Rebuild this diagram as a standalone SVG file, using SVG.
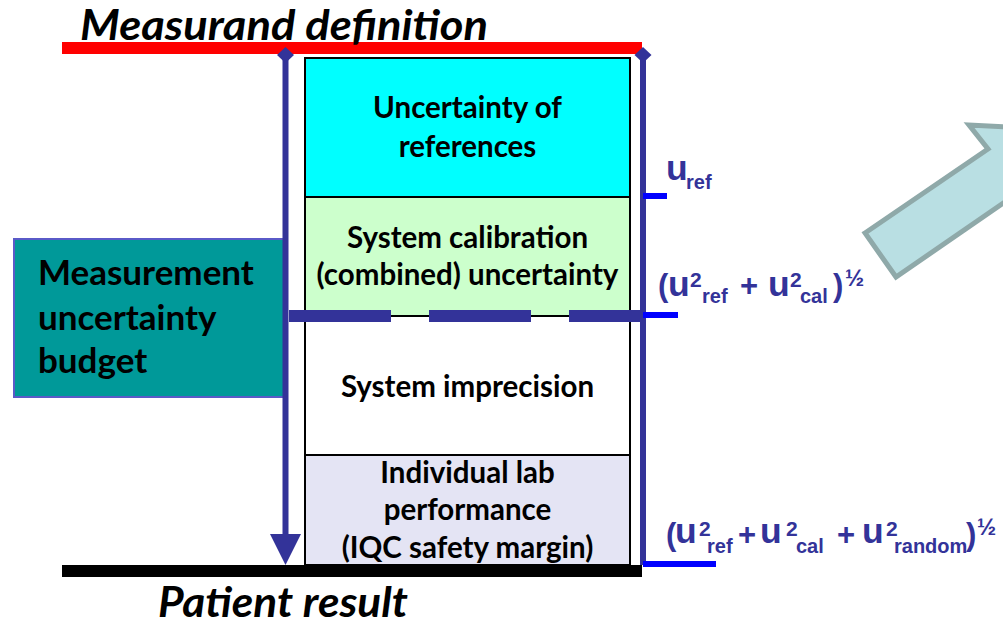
<svg xmlns="http://www.w3.org/2000/svg" width="1003" height="625" viewBox="0 0 1003 625">
  <style>
    .box { stroke: #000; stroke-width: 2; }
    .lbl { font-family: Lato, "Liberation Sans", sans-serif; font-weight: 700; fill: #000; }
    .mid { text-anchor: middle; font-size: 29.5px; }
    .title { font-family: Lato, "Liberation Sans", sans-serif; font-weight: 700; font-style: italic; font-size: 42px; fill: #000; }
    .eq { font-family: "Liberation Sans", Arial, sans-serif; font-weight: 700; fill: #333399; }
    .big { font-size: 35.5px; }
    .par { font-size: 31px; }
    .sup { font-size: 21px; }
    .sub { font-size: 20px; }
    .half { font-size: 23px; }
    .axis { stroke: #333399; stroke-width: 6; fill: none; }
    .tick { stroke: #0000ff; stroke-width: 6; }
  </style>

  <!-- big pointer arrow leaving to the right -->
  <g id="pointer-arrow">
    <path d="M865 233 L988 149 L969 125 L1063 130 L1036 219 L1018 193 L896 277 Z" fill="#b9dfe3" stroke="#8fa9a9" stroke-width="5" stroke-linejoin="miter"/>
  </g>

  <!-- budget label box -->
  <g id="budget">
    <rect x="14" y="239" width="270" height="158" fill="#009999" stroke="#5a5ac8" stroke-width="2"/>
    <text class="lbl" font-size="35" x="38" y="285">Measurement</text>
    <text class="lbl" font-size="35" x="38" y="330">uncertainty</text>
    <text class="lbl" font-size="35" x="38" y="373">budget</text>
  </g>

  <!-- stacked uncertainty components -->
  <g id="references">
    <rect class="box" x="305" y="58" width="325" height="139" fill="#00ffff"/>
    <text class="lbl mid" x="467.5" y="118">Uncertainty of</text>
    <text class="lbl mid" x="467.5" y="157">references</text>
  </g>
  <g id="calibration">
    <rect class="box" x="305" y="197" width="325" height="119" fill="#ccffcc"/>
    <text class="lbl mid" x="467.5" y="248">System calibration</text>
    <text class="lbl mid" x="467.5" y="285">(combined) uncertainty</text>
  </g>
  <g id="imprecision">
    <rect class="box" x="305" y="316" width="325" height="139" fill="#ffffff"/>
    <text class="lbl mid" x="467.5" y="397">System imprecision</text>
  </g>
  <g id="lab-performance">
    <rect class="box" x="305" y="455" width="325" height="110" fill="#e4e4f4"/>
    <text class="lbl mid" x="467.5" y="483">Individual lab</text>
    <text class="lbl mid" x="467.5" y="520">performance</text>
    <text class="lbl mid" x="467.5" y="558">(IQC safety margin)</text>
  </g>

  <!-- connectors: bars, axes, ticks -->
  <g id="connectors">
    <line x1="62" y1="48" x2="642" y2="48" stroke="#ff0000" stroke-width="12"/>
    <line x1="62" y1="571" x2="642" y2="571" stroke="#000" stroke-width="12"/>
    <line class="axis" x1="285.5" y1="55" x2="285.5" y2="536"/>
    <polygon points="270,534 301,534 285.5,565" fill="#333399"/>
    <polygon points="285.5,47 294,55 285.5,63 277,55" fill="#333399"/>
    <line class="axis" x1="643" y1="55" x2="643" y2="565"/>
    <polygon points="643,47 651.5,55 643,63 634.5,55" fill="#333399"/>
    <line x1="289" y1="316" x2="642" y2="316" stroke="#333399" stroke-width="12" stroke-dasharray="102 38"/>
    <line class="tick" x1="643" y1="196" x2="667" y2="196"/>
    <line class="tick" x1="643" y1="315" x2="678" y2="315"/>
    <line class="tick" x1="643" y1="564" x2="716" y2="564"/>
  </g>

  <!-- level titles -->
  <g id="measurand-definition">
    <text class="title" x="80" y="40" textLength="408" lengthAdjust="spacingAndGlyphs">Measurand definition</text>
  </g>
  <g id="patient-result">
    <text class="title" x="158" y="617" font-size="40" textLength="250" lengthAdjust="spacingAndGlyphs">Patient result</text>
  </g>

  <!-- combined uncertainty formulas -->
  <g id="u-ref">
    <text class="eq"><tspan class="big" x="666" y="180">u</tspan><tspan class="sub" x="686" y="189">ref</tspan></text>
  </g>
  <g id="u-ref-cal">
    <text class="eq"><tspan class="par" x="658" y="296">(</tspan><tspan class="big" x="668" y="296">u</tspan><tspan class="sup" x="690" y="287">2</tspan><tspan class="sub" x="702" y="303">ref</tspan><tspan class="par" x="740" y="296">+</tspan><tspan class="big" x="768" y="296">u</tspan><tspan class="sup" x="790" y="287">2</tspan><tspan class="sub" x="800" y="303">cal</tspan><tspan class="par" x="833" y="296">)</tspan><tspan class="half" x="845" y="286">½</tspan></text>
  </g>
  <g id="u-total">
    <text class="eq"><tspan class="par" x="666" y="545">(</tspan><tspan class="big" x="675" y="543">u</tspan><tspan class="sup" x="699" y="536">2</tspan><tspan class="sub" x="707" y="553">ref</tspan><tspan class="par" x="738" y="545">+</tspan><tspan class="big" x="760" y="543">u</tspan><tspan class="sup" x="786" y="536">2</tspan><tspan class="sub" x="796" y="553">cal</tspan><tspan class="par" x="837" y="545">+</tspan><tspan class="big" x="862" y="543">u</tspan><tspan class="sup" x="886" y="536">2</tspan><tspan class="sub" x="894" y="553" font-size="18.5">random</tspan><tspan class="par" x="966" y="545">)</tspan><tspan class="half" x="977" y="535">½</tspan></text>
  </g>
</svg>
